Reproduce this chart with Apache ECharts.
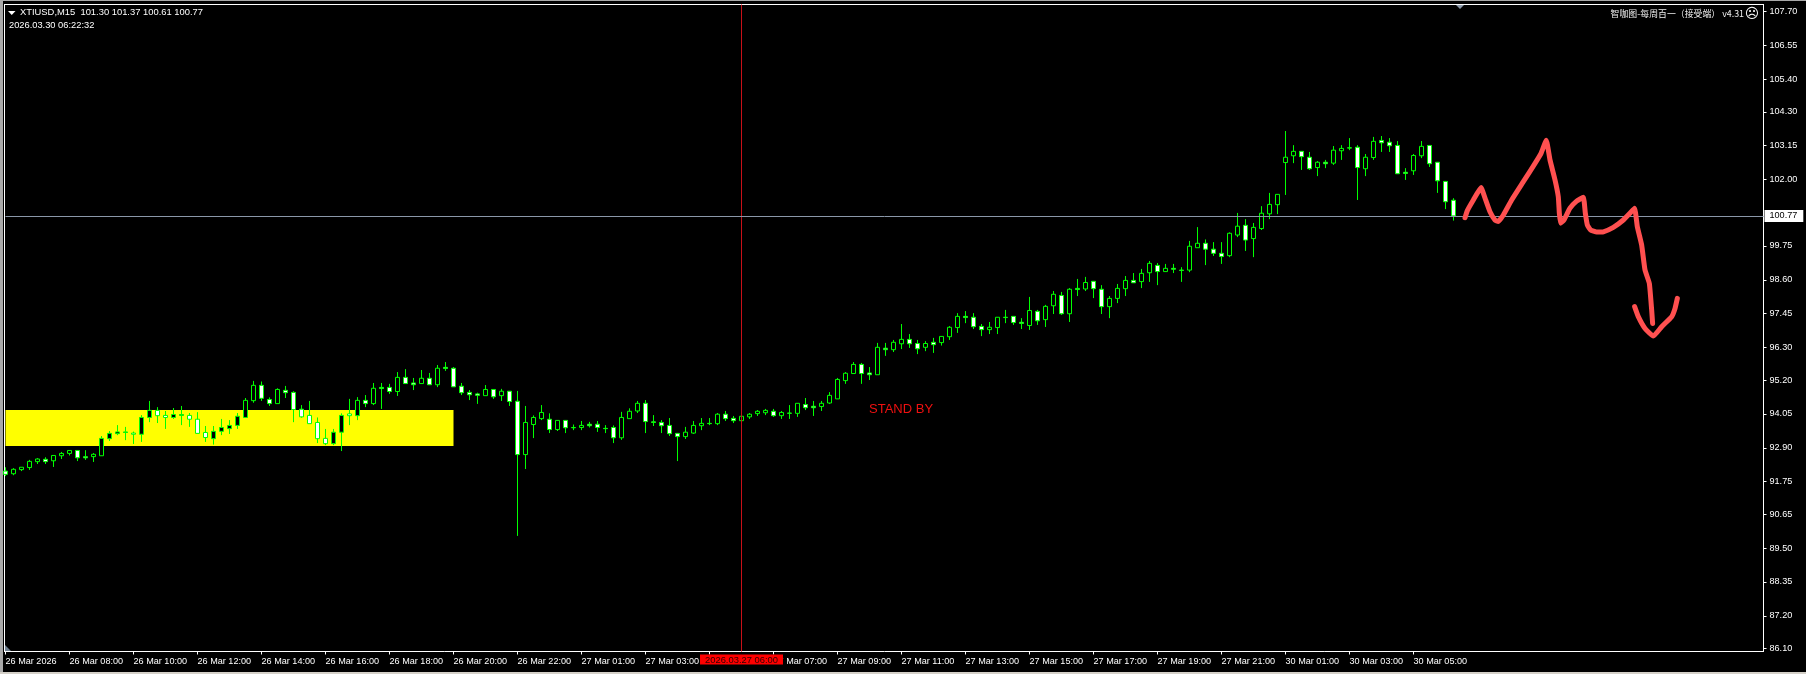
<!DOCTYPE html>
<html><head><meta charset="utf-8">
<style>html,body{margin:0;padding:0;background:#000;overflow:hidden}#c{width:1806px;height:674px}</style>
<script src="https://cdn.jsdelivr.net/npm/echarts@6/dist/echarts.min.js"></script>
</head><body><div id="c"></div>
<script>
const opens=[92.11,92.02,92.16,92.23,92.43,92.51,92.46,92.63,92.71,92.81,92.60,92.60,92.63,93.21,93.38,93.42,93.40,93.36,93.93,94.17,
94.00,93.93,94.00,94.00,93.87,93.42,93.21,93.46,93.55,93.66,93.93,94.50,95.02,94.54,94.40,94.85,94.78,94.21,94.00,93.76,
93.22,93.04,93.43,94.05,93.99,94.51,94.40,94.95,94.95,94.81,95.29,95.10,95.08,95.26,95.04,95.63,95.60,94.99,94.78,94.73,
94.67,94.88,94.67,94.82,94.48,92.67,93.69,93.89,93.87,93.52,93.83,93.59,93.59,93.70,93.70,93.56,93.59,93.24,93.89,94.15,
94.41,93.78,93.76,93.66,93.39,93.28,93.40,93.65,93.73,93.72,94.04,93.90,93.82,93.95,94.06,94.09,94.14,93.99,94.08,94.07,
94.37,94.31,94.30,94.42,94.56,95.18,95.42,95.73,95.44,95.38,96.28,96.23,96.43,96.58,96.44,96.31,96.48,96.47,96.67,96.98,
97.36,97.33,97.02,96.91,96.98,97.33,97.36,97.16,97.05,97.53,97.25,97.72,98.07,97.45,98.31,98.29,98.55,98.28,97.69,97.97,
98.30,98.58,98.54,98.84,99.09,98.88,98.99,98.93,98.93,99.69,99.84,99.64,99.50,99.42,100.12,100.45,100.00,100.34,100.84,101.15,
102.58,102.81,102.96,102.76,102.41,102.59,102.56,102.98,103.08,103.10,102.37,102.75,103.33,103.27,103.16,102.25,102.30,102.81,103.16,102.59,
101.94,101.30];
const closes=[92.00,92.17,92.24,92.44,92.52,92.43,92.64,92.71,92.81,92.56,92.56,92.68,93.22,93.39,93.44,93.44,93.36,93.93,94.17,93.99,
93.93,94.03,94.03,93.87,93.39,93.25,93.46,93.59,93.66,93.97,94.51,95.02,94.58,94.40,94.88,94.77,94.20,93.95,93.72,93.21,
93.04,93.43,94.00,93.99,94.51,94.40,94.92,94.91,94.81,95.29,95.08,95.04,95.26,95.04,95.60,95.59,94.97,94.77,94.70,94.68,
94.88,94.63,94.82,94.47,92.67,93.76,93.93,94.10,93.52,93.83,93.58,93.58,93.66,93.65,93.59,93.55,93.24,93.93,94.14,94.41,
93.79,93.76,93.65,93.38,93.28,93.43,93.66,93.73,93.72,94.04,93.89,93.82,93.97,94.04,94.14,94.17,93.99,94.10,94.07,94.41,
94.26,94.26,94.41,94.68,95.22,95.43,95.73,95.42,95.38,96.31,96.23,96.48,96.58,96.43,96.26,96.44,96.40,96.68,96.99,97.36,
97.32,97.01,96.91,96.99,97.33,97.32,97.15,97.12,97.56,97.21,97.70,98.11,97.45,98.28,98.27,98.51,98.30,97.69,97.97,98.31,
98.58,98.50,98.82,99.16,98.88,98.99,98.96,98.92,99.74,99.84,99.64,99.50,99.39,100.18,100.42,99.95,100.38,100.86,101.16,101.50,
102.76,102.96,102.78,102.37,102.59,102.54,103.00,103.06,103.07,102.41,102.76,103.30,103.25,103.15,102.20,102.21,102.82,103.13,102.54,101.96,
101.25,100.77];
const lows=[91.94,91.97,92.11,92.15,92.35,92.35,92.25,92.52,92.64,92.45,92.49,92.42,92.63,93.13,93.33,93.16,93.03,93.10,93.77,93.74,
93.54,93.88,93.67,93.61,93.39,93.10,93.01,93.33,93.37,93.54,93.93,94.43,94.49,94.32,94.40,94.59,93.77,93.92,93.72,93.06,
92.99,92.99,92.79,93.67,93.84,94.28,94.35,94.22,94.73,94.66,95.08,94.86,95.08,95.03,94.96,95.51,94.97,94.69,94.52,94.39,
94.67,94.56,94.49,94.32,89.91,92.18,93.23,93.84,93.40,93.47,93.40,93.50,93.50,93.59,93.44,93.40,93.06,93.17,93.89,94.08,
93.40,93.64,93.40,93.30,92.45,93.20,93.37,93.50,93.67,93.67,93.81,93.74,93.82,93.88,93.98,94.01,93.95,93.88,93.88,93.95,
94.18,93.98,94.15,94.39,94.56,95.07,95.42,95.07,95.20,95.38,96.02,96.15,96.25,96.29,96.08,96.18,96.12,96.37,96.56,96.80,
97.13,96.93,96.69,96.76,96.76,97.13,97.07,96.93,96.90,97.07,97.00,97.44,97.41,97.17,98.05,98.22,97.98,97.44,97.30,97.81,
98.05,98.50,98.32,98.53,98.42,98.88,98.83,98.53,98.86,99.69,99.10,99.41,99.14,99.37,100.05,99.58,99.37,100.29,100.66,100.83,
101.48,102.56,102.33,102.33,102.12,102.39,102.50,102.67,103.00,101.31,102.12,102.67,102.94,102.94,102.20,101.99,102.16,102.73,102.43,101.55,
101.00,100.61];
const highs=[92.24,92.21,92.24,92.49,92.55,92.58,92.64,92.76,92.81,92.81,92.82,92.72,93.30,93.47,93.67,93.61,93.45,94.01,94.49,94.28,
94.15,94.25,94.32,94.08,94.11,93.64,93.64,93.88,93.84,94.08,94.59,95.17,95.15,94.61,94.92,95.00,94.82,94.35,94.49,93.93,
93.54,93.54,94.07,94.56,94.62,94.69,95.10,95.10,95.07,95.47,95.57,95.27,95.54,95.44,95.71,95.81,95.64,95.10,94.86,94.77,
95.03,94.88,94.90,94.82,94.83,94.32,94.00,94.35,94.07,93.83,93.83,93.69,93.81,93.78,93.81,93.67,93.66,94.12,94.24,94.49,
94.52,94.01,93.84,93.91,93.39,93.61,93.81,93.91,93.91,94.08,94.15,93.98,93.97,94.08,94.18,94.22,94.22,94.15,94.35,94.41,
94.59,94.49,94.49,94.79,95.27,95.47,95.81,95.78,95.64,96.46,96.46,96.56,97.10,96.76,96.56,96.52,96.63,96.68,97.03,97.47,
97.54,97.47,97.10,97.17,97.33,97.58,97.36,97.30,98.02,97.58,97.75,98.22,98.19,98.32,98.63,98.70,98.55,98.42,98.05,98.46,
98.73,98.83,98.97,99.24,99.17,99.14,99.14,99.03,99.92,100.39,99.97,99.88,99.88,100.21,100.87,100.66,100.53,101.10,101.55,101.50,
103.65,103.17,102.96,102.94,102.63,102.67,103.14,103.17,103.41,103.17,102.87,103.45,103.48,103.41,103.31,102.39,102.87,103.31,103.16,102.59,
101.94,101.37];
const timeTicks=[0,8,16,24,32,40,48,56,64,72,80,88,96,104,112,120,128,136,144,152,160,168,176];
const timeLabels=['26 Mar 2026','26 Mar 08:00','26 Mar 10:00','26 Mar 12:00','26 Mar 14:00','26 Mar 16:00','26 Mar 18:00','26 Mar 20:00','26 Mar 22:00','27 Mar 01:00','27 Mar 03:00','27 Mar 05:00','27 Mar 07:00','27 Mar 09:00','27 Mar 11:00','27 Mar 13:00','27 Mar 15:00','27 Mar 17:00','27 Mar 19:00','27 Mar 21:00','30 Mar 01:00','30 Mar 03:00','30 Mar 05:00'];
const priceTicks=[107.70,106.55,105.40,104.30,103.15,102.00,99.75,98.60,97.45,96.30,95.20,94.05,92.90,91.75,90.65,89.50,88.35,87.20,86.10];
const lastPrice=100.77;
const crosshairBar=92;
const crosshairLabel='2026.03.27 06:00';
const zoneBars=[0,56];
const zonePrices=[94.18,92.96];
const strokeMain=[[182.44,100.71],[182.73,100.95],[183.48,101.31],[184.44,101.73],[185.02,101.31],[185.56,100.91],[186.19,100.63],[186.60,100.58],[187.23,100.80],[188.27,101.31],[189.73,101.93],[191.19,102.55],[191.94,102.89],[192.60,103.34],[193.06,102.67],[193.69,101.99],[194.10,101.42],[194.23,100.86],[194.39,100.52],[194.81,100.63],[195.56,101.03],[196.39,101.27],[197.23,101.40],[197.48,100.86],[197.73,100.46],[198.14,100.29],[198.89,100.22],[199.73,100.23],[200.98,100.38],[202.23,100.63],[203.06,100.86],[203.64,101.03],[203.98,100.40],[204.52,99.78],[204.94,98.93],[205.48,98.48],[205.77,97.58],[205.89,97.12]];
const strokeHead=[[203.64,97.69],[204.10,97.35],[204.94,96.95],[205.98,96.69],[207.02,97.01],[208.27,97.35],[208.69,97.63],[208.98,97.97]];

const FONT='"Liberation Sans",Arial,sans-serif';
const candles=opens.map((o,i)=>[i,o,closes[i],lows[i],highs[i]]);
const stroke=d=>({type:'line',data:d,z:10,symbol:'none',smooth:0.12,silent:true,clip:false,
  lineStyle:{color:'#ff5050',width:5,cap:'round',join:'round'}});
const chart=echarts.init(document.getElementById('c'),null,{renderer:'canvas',width:1806,height:674});
chart.setOption({
 animation:false,backgroundColor:'#000000',
 grid:{left:5.5,top:4.5,right:42.5,bottom:22.5,show:false},
 xAxis:{type:'value',min:0,max:219.75,splitLine:{show:false},
  axisLine:{show:true,onZero:false,lineStyle:{color:'#ffffff',width:1}},
  axisTick:{show:true,length:3,inside:false,customValues:timeTicks,lineStyle:{color:'#ffffff'}},
  axisLabel:{customValues:timeTicks,color:'#ffffff',fontFamily:FONT,fontSize:9.1,align:'left',margin:5,hideOverlap:false,
    formatter:v=>timeLabels[timeTicks.indexOf(v)]||''}},
 yAxis:{type:'value',position:'right',min:85.988,max:107.943,scale:true,splitLine:{show:false},
  axisLine:{show:true,onZero:false,lineStyle:{color:'#ffffff',width:1}},
  axisTick:{show:true,length:3,customValues:priceTicks,lineStyle:{color:'#ffffff'}},
  axisLabel:{customValues:priceTicks,color:'#ffffff',fontFamily:FONT,fontSize:9.1,margin:6,hideOverlap:false,
    formatter:v=>v.toFixed(2)}},
 series:[
  {type:'candlestick',data:candles,encode:{x:0,y:[1,2,3,4]},barWidth:5,silent:true,
   itemStyle:{color:'#000000',color0:'#ffffff',borderColor:'#00ff00',borderColor0:'#00ff00',borderWidth:1},
   markArea:{silent:true,itemStyle:{color:'#ffff00',opacity:1},
    data:[[{xAxis:zoneBars[0],yAxis:zonePrices[0]},{xAxis:zoneBars[1],yAxis:zonePrices[1]}]]},
   markLine:{silent:true,symbol:'none',animation:false,data:[
    {xAxis:crosshairBar,lineStyle:{color:'#c81018',width:1,type:'solid'},
     label:{show:true,position:'start',distance:3,formatter:crosshairLabel,color:'#300000',backgroundColor:'#ff0000',
      fontFamily:FONT,fontSize:9.4,padding:[1,5,0,5]}},
    {yAxis:lastPrice,lineStyle:{color:'#8a97a8',width:1,type:'solid'},
     label:{show:true,position:'end',distance:1,formatter:lastPrice.toFixed(2),color:'#000000',backgroundColor:'#ffffff',
      fontFamily:FONT,fontSize:9.1,padding:[2,6,1,5]}}
   ]}},
  stroke(strokeMain),stroke(strokeHead)
 ],
 graphic:[
  {type:'rect',shape:{x:0,y:0,width:3,height:674},style:{fill:'#a8a8a8'},silent:true},
  {type:'rect',shape:{x:0,y:672,width:1806,height:2},style:{fill:'#d4d0c8'},silent:true},
  {type:'rect',shape:{x:0,y:0,width:1806,height:1},style:{fill:'#a8a8a8'},silent:true},
  {type:'rect',shape:{x:4,y:4,width:1760,height:1},style:{fill:'#ffffff'},silent:true},
  {type:'rect',shape:{x:4,y:4,width:1,height:648},style:{fill:'#ffffff'},silent:true},
  {type:'polygon',shape:{points:[[8,11],[15.5,11],[11.75,15]]},style:{fill:'#ffffff'},silent:true},
  {type:'polygon',shape:{points:[[1456,5],[1464,5],[1460,9]]},style:{fill:'#8a97a8'},silent:true},
  {type:'polygon',shape:{points:[[5,645],[5,651],[11,651]]},style:{fill:'#708090'},silent:true},
  {type:'text',x:20,y:12,style:{text:'XTIUSD,M15  101.30 101.37 100.61 100.77',fill:'#ffffff',font:'9.4px '+FONT,textVerticalAlign:'middle'},silent:true},
  {type:'text',x:9,y:25,style:{text:'2026.03.30 06:22:32',fill:'#ffffff',font:'9.3px '+FONT,textVerticalAlign:'middle'},silent:true},
  {type:'text',x:1744,y:14,style:{text:'智咖图-每周百一（接受端） v4.31',fill:'#f0f0f0',font:'8.9px "Noto Sans CJK SC"',textAlign:'right',textVerticalAlign:'middle'},silent:true},
  {type:'text',x:1752,y:14,style:{text:'☹',fill:'#ffffff',font:'14px "DejaVu Sans"',textAlign:'center',textVerticalAlign:'middle'},silent:true},
  {type:'text',x:869,y:409,style:{text:'STAND BY',fill:'#ee1010',font:'13px '+FONT,textVerticalAlign:'middle'},silent:true}
 ]
});
</script></body></html>
